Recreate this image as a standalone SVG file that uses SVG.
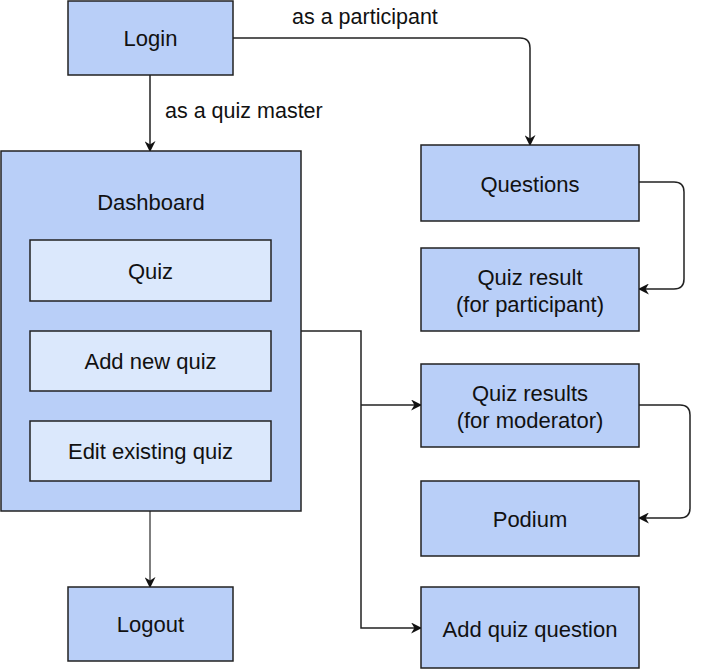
<svg xmlns="http://www.w3.org/2000/svg" width="704" height="670" viewBox="0 0 704 670">
<defs>
<style>
.n{fill:#b9cff8;stroke:#222;stroke-width:1.5}
.i{fill:#dbe8fc;stroke:#222;stroke-width:1.5}
text{font-family:"Liberation Sans",Arial,sans-serif;font-size:22px;fill:#111;text-anchor:middle}
.l{text-anchor:start}
.c{fill:none;stroke:#222;stroke-width:1.5}
</style>
<marker id="a" viewBox="0 0 10 10" refX="9" refY="5" markerWidth="11" markerHeight="11" markerUnits="userSpaceOnUse" orient="auto">
<path d="M0,0 L10,5 L0,10 L3,5 Z" fill="#111"/>
</marker>
</defs>
<rect width="704" height="670" fill="#fff"/>
<g id="connectors">
<path class="c" d="M150,75 V151" marker-end="url(#a)"/>
<text class="l" x="165" y="118" style="font-size:21.5px">as a quiz master</text>
<path class="c" d="M233,38 H520 Q530,38 530,48 V145" marker-end="url(#a)"/>
<text class="l" x="292" y="24" style="font-size:21.5px">as a participant</text>
<path class="c" d="M639,182 H674 Q684,182 684,192 V279 Q684,289 674,289 H639" marker-end="url(#a)"/>
<path class="c" d="M301,331 H361 V628 H421" marker-end="url(#a)"/>
<path class="c" d="M361,405 H421" marker-end="url(#a)"/>
<path class="c" d="M639,405 H680 Q690,405 690,415 V508 Q690,518 680,518 H639" marker-end="url(#a)"/>
<path class="c" d="M150,511 V587" style="stroke:#555" marker-end="url(#a)"/>
</g>
<g id="login"><rect class="n" x="68" y="1" width="165" height="74"/><text x="150.5" y="46">Login</text></g>
<g id="dashboard"><rect class="n" x="1" y="151" width="300" height="360"/><text x="151" y="210">Dashboard</text></g>
<g id="quiz"><rect class="i" x="30" y="240" width="241" height="61"/><text x="150.5" y="279">Quiz</text></g>
<g id="addnew"><rect class="i" x="30" y="331" width="241" height="60"/><text x="150.5" y="369">Add new quiz</text></g>
<g id="edit"><rect class="i" x="30" y="421" width="241" height="60"/><text x="150.5" y="459">Edit existing quiz</text></g>
<g id="logout"><rect class="n" x="68" y="587" width="165" height="74"/><text x="150.5" y="632">Logout</text></g>
<g id="questions"><rect class="n" x="421" y="145" width="218" height="76"/><text x="530" y="192">Questions</text></g>
<g id="quizresult"><rect class="n" x="421" y="248" width="218" height="83"/><text x="530" y="285">Quiz result</text><text x="530" y="312">(for participant)</text></g>
<g id="quizresults"><rect class="n" x="421" y="364" width="218" height="83"/><text x="530" y="401">Quiz results</text><text x="530" y="428">(for moderator)</text></g>
<g id="podium"><rect class="n" x="421" y="481" width="218" height="75"/><text x="530" y="527">Podium</text></g>
<g id="addquestion"><rect class="n" x="421" y="587" width="218" height="81"/><text x="530" y="637">Add quiz question</text></g>
</svg>
